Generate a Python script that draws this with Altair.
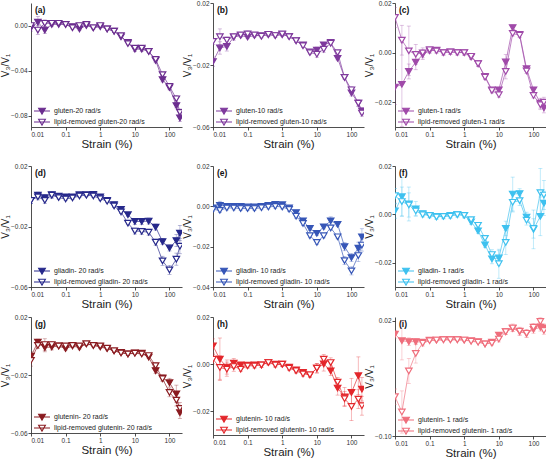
import altair as alt
import pandas as pd

# Strain amplitudes (%) of the amplitude sweep
strain = [0.01, 0.0158, 0.0251, 0.0398, 0.0631, 0.1, 0.158, 0.251, 0.398, 0.631,
          1, 1.58, 2.51, 3.98, 6.31, 10, 15.8, 25.1, 39.8, 63.1, 100, 158, 200]

# (a) gluten, 20 rad/s
a_filled = [-0.002, 0.003, -0.004, 0.001, 0.001, 0.001, -0.001, -0.003, 0.000, -0.002, -0.001, -0.003,
            -0.005, -0.010, -0.015, -0.021, -0.021, -0.023, -0.031, -0.048, -0.055, -0.071, -0.082]
a_open = [0.000, -0.004, 0.002, 0.002, 0.002, 0.001, -0.002, 0.000, 0.001, -0.002, 0.000, -0.003,
          -0.005, -0.009, -0.016, -0.020, -0.020, -0.023, -0.030, -0.0435, -0.054, -0.065, -0.077]
a_err_f = [0.003, 0.005, 0.003, 0.002, 0.001, 0.001, 0.001, 0.001, 0.001, 0.001, 0.001, 0.001,
           0.001, 0.001, 0.001, 0.002, 0.002, 0.001, 0.002, 0.002, 0.002, 0.002, 0.003]
a_err_o = [0.002, 0.004, 0.003, 0.002, 0.001, 0.001, 0.001, 0.001, 0.001, 0.001, 0.001, 0.001,
           0.001, 0.001, 0.001, 0.001, 0.001, 0.001, 0.002, 0.002, 0.002, 0.003, 0.003]

# (b) gluten, 10 rad/s
b_filled = [-0.0178, -0.009, -0.008, -0.002, -0.001, -0.002, -0.001, -0.001, -0.0005, -0.001, -0.0005, -0.0015,
            -0.0043, -0.007, -0.0115, -0.0104, -0.007, -0.0054, -0.0157, -0.028, -0.038, -0.0446, -0.0496]
b_open = [-0.0048, -0.0017, -0.004, -0.0017, -0.0006, 0.000, -0.0006, -0.0015, -0.0002, -0.001, 0.000, -0.0017,
          -0.0043, -0.0076, -0.012, -0.013, -0.0098, -0.006, -0.012, -0.028, -0.036, -0.0446, -0.051]
b_err_f = [0.003, 0.004, 0.003, 0.002, 0.001, 0.001, 0.001, 0.001, 0.001, 0.001, 0.001, 0.001,
           0.001, 0.001, 0.001, 0.002, 0.001, 0.001, 0.001, 0.001, 0.002, 0.002, 0.002]
b_err_o = [0.002, 0.005, 0.002, 0.001, 0.001, 0.002, 0.001, 0.001, 0.001, 0.001, 0.001, 0.001,
           0.001, 0.001, 0.001, 0.002, 0.002, 0.001, 0.001, 0.001, 0.002, 0.002, 0.002]

# (c) gluten, 1 rad/s
c_filled = [-0.0139, -0.0128, -0.0076, -0.0039, -0.0008, 0.0007, 0.001, 0.000, 0.0003, 0.0001, 0.000, -0.0018,
            -0.0045, -0.0096, -0.015, -0.015, -0.0038, 0.0101, 0.0073, -0.0065, -0.015, -0.0204, -0.0223]
c_open = [0.0142, 0.005, 0.0007, -0.0007, -0.0001, 0.0012, 0.0007, 0.000, 0.0003, 0.000, 0.000, -0.0015,
          -0.0045, -0.0099, -0.0153, -0.017, -0.0076, 0.0077, 0.007, -0.0074, -0.0173, -0.021, -0.020]
c_err_f = [0.007, 0.017, 0.003, 0.003, 0.002, 0.001, 0.001, 0.001, 0.001, 0.001, 0.001, 0.001,
           0.001, 0.001, 0.001, 0.001, 0.003, 0.001, 0.001, 0.001, 0.001, 0.002, 0.002]
c_err_o = [0.004, 0.006, 0.010, 0.004, 0.002, 0.001, 0.001, 0.001, 0.001, 0.001, 0.001, 0.001,
           0.001, 0.001, 0.001, 0.001, 0.003, 0.001, 0.001, 0.001, 0.001, 0.002, 0.002]

# (d) gliadin, 20 rad/s
d_filled = [-0.0027, 0.0007, -0.001, 0.001, 0.000, -0.0004, -0.0004, 0.001, 0.001, 0.0013, -0.0004, -0.0027,
            -0.0055, -0.0087, -0.0122, -0.0167, -0.0167, -0.0164, -0.0204, -0.030, -0.0342, -0.0293, -0.0244]
d_open = [-0.0027, -0.0004, -0.0027, 0.0007, -0.0009, -0.0018, -0.0011, 0.0002, 0.0007, 0.0002, -0.0016, -0.0033,
          -0.0064, -0.0104, -0.0178, -0.023, -0.0232, -0.0238, -0.0304, -0.0427, -0.0487, -0.0416, -0.033]
d_err_f = [0.002, 0.002, 0.002, 0.002, 0.001, 0.001, 0.001, 0.001, 0.001, 0.001, 0.001, 0.001,
           0.001, 0.001, 0.001, 0.002, 0.002, 0.002, 0.002, 0.002, 0.002, 0.004, 0.005]
d_err_o = [0.002, 0.002, 0.002, 0.002, 0.001, 0.001, 0.001, 0.001, 0.001, 0.001, 0.001, 0.001,
           0.001, 0.001, 0.001, 0.002, 0.002, 0.002, 0.002, 0.003, 0.003, 0.004, 0.005]

# (e) gliadin, 10 rad/s
e_filled = [-0.0008, 0.0005, 0.000, 0.000, 0.000, -0.0003, -0.0003, 0.000, 0.0005, 0.001, 0.0008, -0.0008,
            -0.0031, -0.0072, -0.011, -0.0134, -0.0102, -0.0072, -0.0089, -0.020, -0.0254, -0.0208, -0.0151]
e_open = [-0.0015, -0.002, -0.0008, -0.0008, -0.0011, -0.0011, -0.0011, -0.0007, -0.0003, 0.000, -0.0003, -0.0015,
          -0.0049, -0.0085, -0.0146, -0.0179, -0.0146, -0.0107, -0.0151, -0.0269, -0.032, -0.0244, -0.0192]
e_err_f = [0.001, 0.002, 0.001, 0.001, 0.001, 0.001, 0.001, 0.001, 0.001, 0.001, 0.001, 0.001,
           0.001, 0.001, 0.001, 0.001, 0.001, 0.002, 0.001, 0.002, 0.002, 0.003, 0.004]
e_err_o = [0.001, 0.001, 0.001, 0.001, 0.001, 0.001, 0.001, 0.001, 0.001, 0.001, 0.001, 0.001,
           0.001, 0.001, 0.001, 0.001, 0.001, 0.001, 0.001, 0.002, 0.002, 0.003, 0.003]

# (f) gliadin, 1 rad/s
f_filled = [0.0014, 0.0073, 0.0043, 0.0023, 0.0003, -0.0004, -0.0008, -0.0008, -0.0004, 0.000, -0.0004, -0.0031,
            -0.0068, -0.0126, -0.0184, -0.018, -0.0058, 0.0084, 0.0086, -0.0011, -0.0062, -0.0008, 0.0046]
f_open = [0.0077, 0.0053, 0.0039, 0.0014, -0.0001, -0.0004, -0.0011, -0.0008, -0.0007, -0.0001, -0.0004, -0.0022,
          -0.0045, -0.0099, -0.0166, -0.0204, -0.0116, 0.005, 0.0057, -0.0024, -0.0058, 0.009, 0.008]
f_err_f = [0.003, 0.008, 0.007, 0.003, 0.001, 0.001, 0.001, 0.001, 0.001, 0.001, 0.001, 0.001,
           0.001, 0.001, 0.002, 0.003, 0.003, 0.007, 0.002, 0.002, 0.008, 0.008, 0.005]
f_err_o = [0.003, 0.006, 0.005, 0.002, 0.001, 0.001, 0.001, 0.001, 0.001, 0.001, 0.001, 0.001,
           0.001, 0.001, 0.002, 0.006, 0.005, 0.004, 0.002, 0.002, 0.004, 0.010, 0.006]

# (g) glutenin, 20 rad/s
g_filled = [-0.007, 0.0027, -0.001, -0.0007, 0.000, -0.0018, 0.000, -0.0011, 0.0015, 0.0004, -0.0007, -0.0018,
            -0.0033, -0.0044, -0.0055, -0.0048, -0.005, -0.0077, -0.017, -0.022, -0.0253, -0.033, -0.046]
g_open = [-0.0099, 0.0004, 0.001, 0.001, 0.000, 0.000, 0.0004, 0.000, 0.0015, 0.0004, 0.000, -0.0015,
          -0.0033, -0.0048, -0.0055, -0.005, -0.0055, -0.0066, -0.0136, -0.0226, -0.032, -0.0374, -0.043]
g_err_f = [0.003, 0.002, 0.003, 0.002, 0.001, 0.001, 0.001, 0.001, 0.001, 0.001, 0.001, 0.001,
           0.001, 0.001, 0.001, 0.001, 0.001, 0.001, 0.002, 0.002, 0.003, 0.006, 0.004]
g_err_o = [0.004, 0.002, 0.004, 0.002, 0.001, 0.001, 0.001, 0.001, 0.001, 0.001, 0.001, 0.001,
           0.001, 0.001, 0.001, 0.001, 0.001, 0.001, 0.002, 0.002, 0.003, 0.004, 0.004]

# (h) glutenin, 10 rad/s
h_filled = [0.0077, 0.0021, -0.0012, 0.0004, -0.0003, -0.0004, -0.0003, -0.0003, 0.0008, 0.000, 0.000, -0.0013,
            -0.0024, -0.0035, -0.0045, -0.0017, 0.0001, -0.0028, -0.0101, -0.0139, -0.012, -0.0049, -0.0106]
h_open = [0.0021, -0.0014, -0.0021, -0.001, -0.0021, -0.0007, -0.0007, -0.0003, 0.0007, -0.0003, 0.000, -0.0017,
          -0.0028, -0.0041, -0.0045, -0.0017, 0.0021, 0.0007, -0.0076, -0.0146, -0.0179, -0.0148, -0.0176]
h_err_f = [0.003, 0.009, 0.003, 0.002, 0.001, 0.001, 0.001, 0.001, 0.001, 0.001, 0.001, 0.001,
           0.001, 0.001, 0.001, 0.002, 0.003, 0.002, 0.003, 0.004, 0.006, 0.008, 0.005]
h_err_o = [0.002, 0.005, 0.003, 0.002, 0.001, 0.001, 0.001, 0.001, 0.001, 0.001, 0.001, 0.001,
           0.001, 0.001, 0.001, 0.002, 0.002, 0.002, 0.002, 0.003, 0.006, 0.004, 0.004]

# (i) glutenin, 1 rad/s
i_filled = [0.006, -0.0007, -0.0017, -0.0017, -0.0023, 0.000, 0.000, 0.0003, 0.0003, 0.0003, 0.000, -0.0007,
            -0.0017, -0.004, -0.0023, 0.005, 0.0087, 0.012, 0.0087, 0.0067, 0.011, 0.0133, 0.0127]
i_open = [-0.059, -0.075, -0.0323, -0.014, -0.0033, -0.0007, 0.000, 0.0003, 0.0003, 0.0003, 0.000, -0.0013,
          -0.0023, -0.004, -0.0033, 0.001, 0.0087, 0.0127, 0.0093, 0.007, 0.0133, 0.0193, 0.010]
i_err_f = [0.004, 0.020, 0.004, 0.003, 0.002, 0.001, 0.001, 0.001, 0.001, 0.001, 0.001, 0.001,
           0.001, 0.001, 0.002, 0.003, 0.003, 0.003, 0.004, 0.004, 0.004, 0.004, 0.004]
i_err_o = [0.008, 0.022, 0.013, 0.010, 0.003, 0.001, 0.001, 0.001, 0.001, 0.001, 0.001, 0.001,
           0.001, 0.001, 0.002, 0.003, 0.003, 0.004, 0.004, 0.004, 0.004, 0.004, 0.004]

FONT = "Liberation Sans"
WIDTH = 151

# Legend glyph: short line with a triangle on it
SYMBOL = "M-2,0H2M-0.85,-0.7H0.85L0,0.78Z"


def panel(tag, color, names, filled, opened, err_f, err_o, ydom, yticks, height):
    rows = []
    for name, vals, errs in ((names[0], filled, err_f), (names[1], opened, err_o)):
        for s, v, e in zip(strain, vals, errs):
            rows.append({"strain": s, "v": v, "lo": v - e, "hi": v + e, "series": name})
    df = pd.DataFrame(rows)

    xs = alt.Scale(type="log", domain=[0.01, 230], nice=False)
    ys = alt.Scale(domain=ydom, nice=False, zero=False)
    x = alt.X("strain:Q", scale=xs,
              axis=alt.Axis(values=[0.01, 0.1, 1, 10, 100], format="~g", title="Strain (%)"))
    y = alt.Y("v:Q", scale=ys, axis=alt.Axis(values=yticks, format=".2f", title="V₃/V₁"))

    base = alt.Chart(df)
    bars = base.mark_rule(color=color, opacity=0.4, strokeWidth=0.8, clip=True).encode(
        x=x, y=alt.Y("lo:Q", scale=ys), y2="hi:Q")
    cap_hi = base.mark_tick(color=color, opacity=0.4, orient="horizontal", size=4,
                            thickness=0.8, clip=True).encode(x=x, y=alt.Y("hi:Q", scale=ys))
    cap_lo = base.mark_tick(color=color, opacity=0.4, orient="horizontal", size=4,
                            thickness=0.8, clip=True).encode(x=x, y=alt.Y("lo:Q", scale=ys))
    line = base.mark_line(color=color, strokeWidth=0.8, opacity=0.85, clip=True).encode(
        x=x, y=y, detail="series:N", order="strain:Q")
    pts = base.mark_point(shape="triangle-down", size=42, stroke=color, strokeWidth=1.2,
                          opacity=1, fillOpacity=1, clip=True).encode(
        x=x, y=y,
        fill=alt.Fill("series:N", scale=alt.Scale(domain=list(names), range=[color, "white"]),
                      legend=alt.Legend(title=None, orient="none", legendX=6, legendY=height - 21,
                                        symbolType=SYMBOL, symbolSize=64, symbolStrokeColor=color,
                                        symbolStrokeWidth=1.1, labelFontSize=7, labelFont=FONT,
                                        labelColor="#222", rowPadding=-1, labelOffset=7,
                                        symbolOffset=0, padding=0)))
    label = alt.Chart(pd.DataFrame({"t": [f"({tag})"]})).mark_text(
        align="left", baseline="top", fontWeight="bold", fontSize=8.5, font=FONT, color="#111").encode(
        x=alt.value(4), y=alt.value(3), text="t:N")

    return alt.layer(bars, cap_hi, cap_lo, line, pts, label).properties(width=WIDTH, height=height)


def row(*panels):
    return alt.hconcat(*panels, spacing=0).resolve_scale(
        x="independent", y="independent", fill="independent").resolve_legend(fill="independent")


purple = ["#6b2d8f", "#7f3a9d", "#a04aa9"]
blue = ["#26288b", "#3656b7", "#3ec1ef"]
red = ["#8a1b20", "#e3262b", "#ef6e7c"]

row1 = row(
    panel("a", purple[0], ("gluten-20 rad/s", "lipid-removed gluten-20 rad/s"),
          a_filled, a_open, a_err_f, a_err_o, [-0.09, 0.02], [0.02, 0, -0.02, -0.04, -0.06, -0.08], 124),
    panel("b", purple[1], ("gluten-10 rad/s", "lipid-removed gluten-10 rad/s"),
          b_filled, b_open, b_err_f, b_err_o, [-0.06, 0.02], [0.02, 0, -0.02, -0.04, -0.06], 124),
    panel("c", purple[2], ("gluten-1 rad/s", "lipid-removed gluten-1 rad/s"),
          c_filled, c_open, c_err_f, c_err_o, [-0.03, 0.02], [0.02, 0, -0.02], 124))
row2 = row(
    panel("d", blue[0], ("gliadin- 20 rad/s", "lipid-removed gliadin- 20 rad/s"),
          d_filled, d_open, d_err_f, d_err_o, [-0.06, 0.02], [0.02, 0, -0.02, -0.04, -0.06], 121),
    panel("e", blue[1], ("gliadin- 10 rad/s", "lipid-removed gliadin- 10 rad/s"),
          e_filled, e_open, e_err_f, e_err_o, [-0.04, 0.02], [0.02, 0, -0.02, -0.04], 121),
    panel("f", blue[2], ("gliadin- 1 rad/s", "lipid-removed gliadin- 1 rad/s"),
          f_filled, f_open, f_err_f, f_err_o, [-0.03, 0.02], [0.02, 0, -0.02], 121))
row3 = row(
    panel("g", red[0], ("glutenin- 20 rad/s", "lipid-removed glutenin- 20 rad/s"),
          g_filled, g_open, g_err_f, g_err_o, [-0.06, 0.02], [0.02, 0, -0.02, -0.04, -0.06], 116),
    panel("h", red[1], ("glutenin- 10 rad/s", "lipid-removed glutenin- 10 rad/s"),
          h_filled, h_open, h_err_f, h_err_o, [-0.03, 0.02], [0.02, 0, -0.02], 118),
    panel("i", red[2], ("glutenin- 1 rad/s", "lipid-removed glutenin- 1 rad/s"),
          i_filled, i_open, i_err_f, i_err_o, [-0.10, 0.024], [0.02, 0, -0.02, -0.04, -0.06, -0.08, -0.10], 119))

top_rows = alt.vconcat(row1, row2, spacing=13).resolve_scale(
    x="independent", y="independent", fill="independent").resolve_legend(fill="independent")

chart = alt.vconcat(top_rows, row3, spacing=4).resolve_scale(
    x="independent", y="independent", fill="independent"
).resolve_legend(fill="independent").properties(
    padding={"left": 0, "top": 0, "right": 0, "bottom": 0}
).configure_view(stroke=None).configure_axis(
    labelFont=FONT, titleFont=FONT, labelFontSize=6.5, labelColor="#333",
    domainColor="#222", tickColor="#222", domainWidth=0.8, tickWidth=0.8, tickSize=3,
    labelPadding=1, grid=False, titleFontWeight="normal", titleColor="#222"
).configure_axisX(titleFontSize=11.5, titlePadding=1).configure_axisY(
    titleFontSize=10, titlePadding=0)

chart.save("out.html", embed_options={"renderer": "svg", "actions": False})
